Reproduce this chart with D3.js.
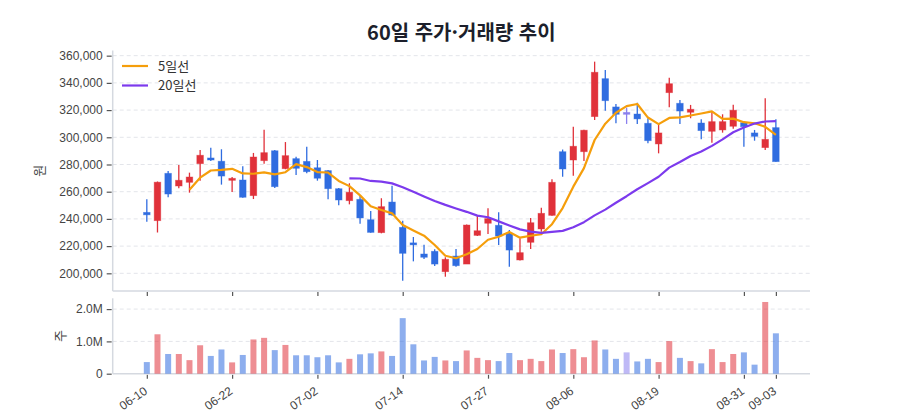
<!DOCTYPE html>
<html lang="ko">
<head>
<meta charset="utf-8">
<script src="https://cdn.jsdelivr.net/npm/d3@7"></script>
<style>
  html, body { margin: 0; padding: 0; background: #fff; }
  svg { display: block; font-family: "Noto Sans CJK KR", "Noto Sans", sans-serif; }
  .tick text { fill: #444; font-size: 12px; }
  .grid line { stroke: #e3e5ea; stroke-dasharray: 4,3; }
</style>
</head>
<body>
<svg id="chart" width="900" height="420"></svg>
<script>
// Trading days shown on the chart (MM-DD)
const dates = [
  '06-10','06-11','06-14','06-15','06-16','06-17','06-18','06-21','06-22','06-23',
  '06-24','06-25','06-28','06-29','06-30','07-01','07-02','07-05','07-06','07-07',
  '07-08','07-09','07-12','07-13','07-14','07-15','07-16','07-19','07-20','07-21',
  '07-22','07-23','07-27','07-28','07-29','07-30','08-02','08-03','08-04','08-05',
  '08-06','08-09','08-10','08-11','08-12','08-13','08-17','08-18','08-19','08-20',
  '08-23','08-24','08-25','08-26','08-27','08-30','08-31','09-01','09-02','09-03'
];

// OHLC (won)
const open = [
  244800,238700,273500,264200,266900,280600,284800,282400,268600,268600,
  257100,282800,290100,276900,284300,282300,277600,275500,262200,253400,
  254400,239400,229900,252400,233800,222300,214200,216200,201200,212700,
  206800,227900,236800,235300,229400,209800,222800,232600,242600,289400,
  283300,289400,315200,343100,322300,317600,317100,310300,295100,332800,
  325000,318400,310500,304400,305400,308100,310700,303200,292400,307100
];
const high = [
  254500,267500,275200,279600,274000,290700,292400,291200,270800,278700,
  288500,305600,290700,296500,285700,293100,283300,276000,262700,266200,
  257100,245800,255200,264400,238700,226700,221000,217700,211800,217900,
  235800,242300,247800,244900,231800,225700,240700,248200,269100,291000,
  307800,305500,355600,349500,324500,321800,325400,314000,309800,343800,
  327400,323800,313200,318800,316900,324000,311000,305400,328700,313200
];
const low = [
  238000,230000,255900,262500,259300,268100,282600,265200,259800,255500,
  254600,280600,262700,276500,272300,273500,268100,254400,250000,250700,
  236500,229800,229400,242400,194600,208800,210500,205400,197500,204900,
  206800,227400,228900,220800,204900,209500,217900,230600,242400,271000,
  271800,282600,312700,319600,310300,309800,309800,295600,288200,322100,
  309800,314000,298500,296000,303400,306300,293100,297500,290700,282000
];
const close = [
  243000,267000,258300,268400,270800,286800,283300,271500,269600,255900,
  285500,288700,263700,286500,277200,274700,269900,262200,253900,259600,
  240700,230100,249000,242900,214700,221000,211800,206800,210300,205600,
  235500,231300,240200,227400,217100,215200,237200,244100,266900,276700,
  293400,305200,347800,326900,316900,317600,313500,297500,303200,339400,
  319300,320600,304900,311500,311500,319900,307800,300700,298500,282100
];

// Daily volume (shares)
const volume = [
  360000,1220000,610000,610000,420000,880000,550000,750000,350000,580000,
  1060000,1110000,730000,890000,570000,570000,510000,570000,350000,460000,
  600000,630000,690000,550000,1720000,910000,410000,520000,410000,390000,
  720000,490000,420000,390000,640000,420000,460000,390000,750000,640000,
  760000,510000,1030000,750000,460000,660000,380000,460000,360000,1010000,
  490000,390000,320000,760000,360000,610000,660000,280000,2220000,1250000
];

// Moving averages as drawn (null where the line is not shown)
const ma5 = [
  null,null,null,null,261500,270300,275600,276100,276800,273400,
  273200,274200,272700,274300,280300,278100,274400,274100,267900,264100,
  257300,249300,246500,244100,235500,231500,227700,220800,212900,211100,
  214000,217900,224700,226900,230300,226200,227600,228700,236100,248000,
  263700,277300,298000,310000,318000,322900,324500,314500,309700,314200,
  314600,316000,317500,319100,313600,313700,311100,310300,307700,301800
];
const ma20 = [
  null,null,null,null,null,null,null,null,null,null,
  null,null,null,null,null,null,null,null,null,269800,
  269700,267900,267400,266100,263300,260000,256500,253200,250300,247700,
  245200,242400,241200,238200,235200,232300,230600,229700,230400,231200,
  233900,237600,242600,246800,251900,256700,261800,266300,271000,277700,
  281800,286300,289500,293700,298500,303700,307200,310100,311600,311900
];

// Axis ticks
const xTickDates = ['06-10','06-22','07-02','07-14','07-27','08-06','08-19','08-31','09-03'];
const priceTicks = [200000,220000,240000,260000,280000,300000,320000,340000,360000];
const volumeTicks = [0, 1000000, 2000000];

const legendItems = [
  { label: '5일선', color: '#f59e0b', values: ma5 },
  { label: '20일선', color: '#7c3aed', values: ma20 }
];

// Layout
const plotLeft = 112.7, plotRight = 810;
const priceTop = 50.5, priceBottom = 291;
const volTop = 298.3, volBottom = 373.7;

const upColor = '#e0313a', downColor = '#2f6ce0', flatColor = '#8b80ee';
const candleColor = i => close[i] > open[i] ? upColor : (close[i] < open[i] ? downColor : flatColor);

const svg = d3.select('#chart');

const x = d3.scalePoint().domain(dates).range([plotLeft, plotRight]).padding(3.2);
const yPrice = d3.scaleLinear().domain([187000, 363800]).range([priceBottom, priceTop]);
const yVol = d3.scaleLinear().domain([0, 2334000]).range([volBottom, volTop]);

// Title
svg.append('text')
    .attr('x', (plotLeft + plotRight) / 2)
    .attr('y', 40)
    .attr('text-anchor', 'middle')
    .attr('font-size', 20)
    .attr('font-weight', 700)
    .attr('fill', '#1c1f2b')
    .text('60일 주가·거래량 추이');

// Grid lines
svg.append('g')
    .attr('class', 'grid')
    .selectAll('line')
    .data(priceTicks)
    .join('line')
    .attr('x1', plotLeft).attr('x2', plotRight)
    .attr('y1', d => yPrice(d)).attr('y2', d => yPrice(d));

svg.append('g')
    .attr('class', 'grid')
    .selectAll('line')
    .data(volumeTicks.slice(1))
    .join('line')
    .attr('x1', plotLeft).attr('x2', plotRight)
    .attr('y1', d => yVol(d)).attr('y2', d => yVol(d));

// Axes
function styleAxis(g) {
  g.select('.domain').remove();
  g.selectAll('.tick line').attr('stroke', '#555').attr('stroke-width', 1.2);
}

svg.append('g')
    .attr('transform', `translate(${plotLeft - 1},0)`)
    .call(d3.axisLeft(yPrice).tickValues(priceTicks).tickSize(5).tickPadding(4).tickFormat(d3.format(',')))
    .call(styleAxis);

svg.append('g')
    .attr('transform', `translate(${plotLeft - 1},0)`)
    .call(d3.axisLeft(yVol).tickValues(volumeTicks).tickSize(5).tickPadding(4)
        .tickFormat(d => d === 0 ? '0' : (d / 1e6).toFixed(1) + 'M'))
    .call(styleAxis);

svg.append('g')
    .attr('transform', `translate(0,${priceBottom + 1})`)
    .call(d3.axisBottom(x).tickValues(xTickDates).tickSize(4).tickFormat(''))
    .call(styleAxis);

const xAxisVol = svg.append('g')
    .attr('transform', `translate(0,${volBottom + 1})`)
    .call(d3.axisBottom(x).tickValues(xTickDates).tickSize(4).tickPadding(6))
    .call(styleAxis);

xAxisVol.selectAll('.tick text')
    .attr('text-anchor', 'end')
    .attr('dy', '0.3em')
    .attr('font-size', 12.5)
    .attr('transform', 'translate(-7,7) rotate(-35)');

// Panel frame lines (left + bottom)
const frame = svg.append('g').attr('stroke', '#d5d9e0').attr('stroke-width', 1.5);
frame.append('line').attr('x1', plotLeft).attr('x2', plotLeft).attr('y1', priceTop).attr('y2', priceBottom);
frame.append('line').attr('x1', plotLeft).attr('x2', plotRight).attr('y1', priceBottom).attr('y2', priceBottom);
frame.append('line').attr('x1', plotLeft).attr('x2', plotLeft).attr('y1', volTop).attr('y2', volBottom);
frame.append('line').attr('x1', plotLeft).attr('x2', plotRight).attr('y1', volBottom).attr('y2', volBottom);

// Axis titles
svg.append('text')
    .attr('transform', `translate(44,${(priceTop + priceBottom) / 2}) rotate(-90)`)
    .attr('text-anchor', 'middle')
    .attr('font-size', 13)
    .attr('fill', '#444')
    .text('원');

svg.append('text')
    .attr('transform', `translate(65,${(volTop + volBottom) / 2}) rotate(-90)`)
    .attr('text-anchor', 'middle')
    .attr('font-size', 13)
    .attr('fill', '#444')
    .text('주');

// Volume bars
const barW = 6;
svg.append('g')
    .selectAll('rect')
    .data(volume)
    .join('rect')
    .attr('x', (d, i) => x(dates[i]) - barW / 2)
    .attr('y', d => yVol(d))
    .attr('width', barW)
    .attr('height', d => yVol(0) - yVol(d))
    .attr('fill', (d, i) => candleColor(i))
    .attr('fill-opacity', 0.55);

// Candles
const bodyW = 6.6;
const candles = svg.append('g')
    .selectAll('g')
    .data(dates)
    .join('g');

candles.append('line')
    .attr('x1', d => x(d)).attr('x2', d => x(d))
    .attr('y1', (d, i) => yPrice(high[i]))
    .attr('y2', (d, i) => yPrice(low[i]))
    .attr('stroke', (d, i) => candleColor(i))
    .attr('stroke-width', 1.3);

candles.append('rect')
    .attr('x', d => x(d) - bodyW / 2)
    .attr('y', (d, i) => {
      const top = yPrice(Math.max(open[i], close[i]));
      const h = Math.abs(yPrice(open[i]) - yPrice(close[i]));
      return h < 2 ? top - (2 - h) / 2 : top;
    })
    .attr('width', bodyW)
    .attr('height', (d, i) => Math.max(2, Math.abs(yPrice(open[i]) - yPrice(close[i]))))
    .attr('fill', (d, i) => candleColor(i))
    .attr('stroke', (d, i) => candleColor(i))
    .attr('stroke-opacity', 0.5)
    .attr('stroke-width', 0.8);

// Moving average lines
const line = d3.line()
    .defined(d => d[1] != null)
    .x(d => x(d[0]))
    .y(d => yPrice(d[1]));

legendItems.forEach(item => {
  svg.append('path')
      .datum(dates.map((d, i) => [d, item.values[i]]))
      .attr('fill', 'none')
      .attr('stroke', item.color)
      .attr('stroke-width', 2.2)
      .attr('stroke-linejoin', 'round')
      .attr('d', line);
});

// Legend
const legend = svg.append('g').attr('transform', 'translate(122,66)');
legendItems.forEach((item, k) => {
  const row = legend.append('g').attr('transform', `translate(0,${k * 19.5})`);
  row.append('line')
      .attr('x1', 0).attr('x2', 26)
      .attr('stroke', item.color)
      .attr('stroke-width', 2.2);
  row.append('text')
      .attr('x', 36)
      .attr('dy', '0.35em')
      .attr('font-size', 13)
      .attr('fill', '#333')
      .text(item.label);
});
</script>
</body>
</html>
